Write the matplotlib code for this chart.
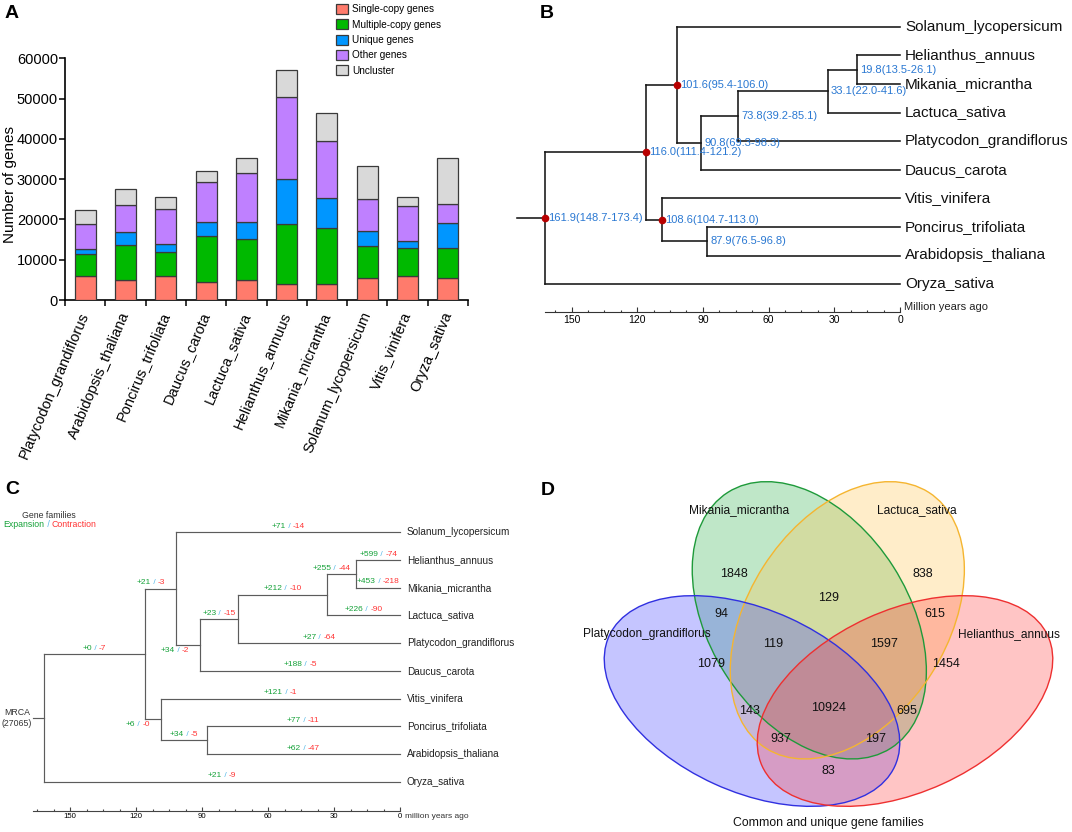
import matplotlib
matplotlib.use('Agg')
import matplotlib.pyplot as plt
from matplotlib.patches import Patch, Ellipse
from matplotlib.transforms import offset_copy
import numpy as np

plt.rcParams['font.family'] = ['Liberation Sans', 'DejaVu Sans']

# ---------------- Panel A data ----------------
species_a = ["Platycodon_grandiflorus", "Arabidopsis_thaliana", "Poncirus_trifoliata",
             "Daucus_carota", "Lactuca_sativa", "Helianthus_annuus", "Mikania_micrantha",
             "Solanum_lycopersicum", "Vitis_vinifera", "Oryza_sativa"]
single_copy = [6040, 4970, 6040, 4550, 4880, 3890, 3890, 5380, 5880, 5545]
multiple_copy = [5300, 8690, 5960, 11420, 10180, 14900, 13900, 8110, 6950, 7285]
unique_genes = [1240, 3145, 1990, 3480, 4220, 11170, 7450, 3640, 1740, 6370]
other_genes = [6210, 6700, 8520, 9930, 12170, 20520, 14240, 8030, 8690, 4550]
uncluster = [3550, 3980, 2980, 2730, 3890, 6540, 6860, 8030, 2230, 11590]
series_labels = ["Single-copy genes", "Multiple-copy genes", "Unique genes", "Other genes", "Uncluster"]
y_ticks_a = [0, 10000, 20000, 30000, 40000, 50000, 60000]

# ---------------- Tree data (B, C) ----------------
tips = ["Solanum_lycopersicum", "Helianthus_annuus", "Mikania_micrantha", "Lactuca_sativa",
        "Platycodon_grandiflorus", "Daucus_carota", "Vitis_vinifera", "Poncirus_trifoliata",
        "Arabidopsis_thaliana", "Oryza_sativa"]
node_names = ["n19", "n33", "n73", "n90", "n101", "n87", "n108", "n116", "root"]
node_ages = [19.8, 33.1, 73.8, 90.8, 101.6, 87.9, 108.6, 116.0, 161.9]
node_ci_low = [13.5, 22.0, 39.2, 69.3, 95.4, 76.5, 104.7, 111.4, 148.7]
node_ci_high = [26.1, 41.6, 85.1, 98.3, 106.0, 96.8, 113.0, 121.2, 173.4]
node_children = [("Helianthus_annuus", "Mikania_micrantha"), ("n19", "Lactuca_sativa"),
                 ("n33", "Platycodon_grandiflorus"), ("n73", "Daucus_carota"),
                 ("Solanum_lycopersicum", "n90"), ("Poncirus_trifoliata", "Arabidopsis_thaliana"),
                 ("Vitis_vinifera", "n87"), ("n101", "n108"), ("n116", "Oryza_sativa")]
calibrated_nodes = ["root", "n116", "n101", "n108"]
time_major = [150, 120, 90, 60, 30, 0]

# ---------------- Panel C data ----------------
branch_names = ["Solanum_lycopersicum", "Helianthus_annuus", "Mikania_micrantha", "n19",
                "Lactuca_sativa", "n33", "Platycodon_grandiflorus", "n73", "Daucus_carota",
                "n90", "n101", "n116", "Vitis_vinifera", "Poncirus_trifoliata",
                "Arabidopsis_thaliana", "n87", "n108", "Oryza_sativa"]
expansion = [71, 599, 453, 255, 226, 212, 27, 23, 188, 34, 21, 0, 121, 77, 62, 34, 6, 21]
contraction = [14, 74, 218, 44, 90, 10, 64, 15, 5, 2, 3, 7, 1, 11, 47, 5, 0, 9]
mrca_families = 27065

# ---------------- Panel D data ----------------
venn_sets = ["Mikania_micrantha", "Lactuca_sativa", "Platycodon_grandiflorus", "Helianthus_annuus"]
venn_values = [1848, 838, 129, 94, 615, 119, 1597, 1079, 1454, 143, 10924, 695, 937, 197, 83]

# ================= figure =================
W, H = 1072, 832
fig = plt.figure(figsize=(W / 100, H / 100), dpi=100)
renderer = fig.canvas.get_renderer()


def px_axes(x0, y0, x1, y1):
    return fig.add_axes([x0 / W, 1 - y1 / H, (x1 - x0) / W, (y1 - y0) / H])


# ---------------- Panel A ----------------
axA = px_axes(65, 58.3, 468, 300)
colors_a = ['#FF7B6C', '#00B900', '#0096FF', '#BF80FF', '#D9D9D9']
xa = np.arange(len(species_a))
bottom = np.zeros(len(xa))
for vals, col, lab in zip([single_copy, multiple_copy, unique_genes, other_genes, uncluster],
                          colors_a, series_labels):
    axA.bar(xa, vals, 0.52, bottom=bottom, color=col, edgecolor='#3a3a3a',
            linewidth=0.9, label=lab, zorder=3)
    bottom += np.array(vals)
axA.set_xlim(-0.5, 9.5)
axA.set_ylim(0, 60000)
axA.set_yticks(y_ticks_a)
axA.set_yticklabels([str(v) for v in y_ticks_a])
for s in ['top', 'right']:
    axA.spines[s].set_visible(False)
for s in ['left', 'bottom']:
    axA.spines[s].set_linewidth(1.2)
axA.set_xticks(xa)
axA.set_xticklabels(species_a, rotation=67, ha='right', va='center',
                    rotation_mode='anchor', fontsize=10.5)
axA.tick_params(axis='x', which='major', length=0, pad=9)
axA.set_xticks(np.arange(-0.5, 10, 1), minor=True)
axA.tick_params(axis='x', which='minor', length=4, width=1.1)
axA.tick_params(axis='y', length=4, width=1.1, pad=1, labelsize=10.5)
axA.set_ylabel('Number of genes', fontsize=11)
axA.yaxis.set_label_coords(-0.119, 0.476)
handles = [Patch(facecolor=c, edgecolor='#3a3a3a', linewidth=0.9) for c in colors_a]
fig.legend(handles, series_labels, loc='upper left', bbox_to_anchor=(336 / W, 1 - 4 / H),
           frameon=False, fontsize=7.2, handlelength=1.15, handleheight=1.15,
           labelspacing=0.5, handletextpad=0.45, borderpad=0, borderaxespad=0)


# ---------------- tree helpers ----------------
ages = dict(zip(node_names, node_ages))
children = dict(zip(node_names, node_children))
for t in tips:
    ages[t] = 0.0
ypos = {t: i for i, t in enumerate(tips)}


def get_y(n):
    if n not in ypos:
        ypos[n] = np.mean([get_y(c) for c in children[n]])
    return ypos[n]


for n in node_names:
    get_y(n)
parent = {}
for n in node_names:
    for c in children[n]:
        parent[c] = n


def draw_tree(ax, color, lw, stem_age):
    for n in node_names:
        cy = [ypos[c] for c in children[n]]
        ax.plot([ages[n], ages[n]], [min(cy), max(cy)], color=color, lw=lw,
                solid_capstyle='projecting')
        for c in children[n]:
            ax.plot([ages[n], ages[c]], [ypos[c], ypos[c]], color=color, lw=lw,
                    solid_capstyle='projecting')
    ax.plot([stem_age, ages['root']], [ypos['root']] * 2, color=color, lw=lw)


def time_axis(ax, ypos_axis, start, maj_len, min_len, fs, pad, color):
    for s in ['top', 'left', 'right']:
        ax.spines[s].set_visible(False)
    ax.spines['bottom'].set_position(('data', ypos_axis))
    ax.spines['bottom'].set_bounds(start, 0)
    ax.spines['bottom'].set_color(color)
    ax.spines['bottom'].set_linewidth(0.8)
    ax.set_yticks([])
    ax.set_xticks(time_major)
    ax.set_xticklabels([str(v) for v in time_major])
    ax.set_xticks(np.arange(0, start, 7.5), minor=True)
    ax.tick_params(axis='x', which='major', direction='in', length=maj_len, width=0.8,
                   labelsize=fs, pad=pad, color=color)
    ax.tick_params(axis='x', which='minor', direction='in', length=min_len, width=0.8,
                   color=color)


# ---------------- Panel B ----------------
sB, x0B = 2.19, 900.0
axB = px_axes(500, 0, 1072, 330)
axB.set_xlim((x0B - 500) / sB, (x0B - 1072) / sB)
axB.set_ylim((330 - 26.7) / 28.6, (0 - 26.7) / 28.6)
axB.patch.set_visible(False)
draw_tree(axB, '#151515', 1.15, (x0B - 516.7) / sB)
for t in tips:
    axB.text(-5 / sB, ypos[t], t, fontsize=11, ha='left', va='center', color='#111111')
for n, lo, hi in zip(node_names, node_ci_low, node_ci_high):
    axB.text(ages[n] - 3 / sB, ypos[n], f"{ages[n]:.1f}({lo:.1f}-{hi:.1f})", fontsize=8,
             color='#2A78D2', ha='left', va='center')
for n in calibrated_nodes:
    axB.plot(ages[n], ypos[n], 'o', color='#B80000', ms=4.5, mec='#B80000', zorder=5)
time_axis(axB, (312.3 - 26.7) / 28.6, ages['root'], 3.6, 1.8, 7.5, 2.3, '#333333')
axB.text(-4 / sB, (307.5 - 26.7) / 28.6, 'Million years ago', fontsize=8, ha='left',
         va='center', color='#222222')


# ---------------- Panel C ----------------
sC, x0C = 2.2, 400.0
y0C, dyC = 532.3, 27.7
axC = px_axes(0, 480, 540, 832)
axC.set_xlim((x0C - 0) / sC, (x0C - 540) / sC)
axC.set_ylim((832 - y0C) / dyC, (480 - y0C) / dyC)
axC.patch.set_visible(False)
draw_tree(axC, '#5c5c5c', 0.85, (x0C - 33.3) / sC)
for t in tips:
    axC.text(-6.7 / sC, ypos[t], t, fontsize=7.2, ha='left', va='center', color='#222222')
time_axis(axC, (811 - y0C) / dyC, 167.0, 2.6, 1.5, 5.6, 1.6, '#444444')
axC.text(-5 / sC, (816.5 - y0C) / dyC, 'million years ago', fontsize=6, ha='left',
         va='center', color='#333333')
axC.text((x0C - 17) / sC, ypos['root'], f"MRCA\n({mrca_families})", fontsize=6.3,
         ha='center', va='center', color='#333333', linespacing=1.25)

GREEN, SLASH, RED = '#17A23A', '#55B8E8', '#FF3535'


def multi_text(ax, x, y, parts, cols, fs):
    widths = []
    for p in parts:
        t = ax.text(0, 0, p, fontsize=fs)
        widths.append(t.get_window_extent(renderer).width)
        t.remove()
    cur = -sum(widths) / 2
    for p, c, w in zip(parts, cols, widths):
        tr = offset_copy(ax.transData, fig=fig, x=cur * 72 / fig.dpi, y=0, units='points')
        ax.text(x, y, p, color=c, fontsize=fs, ha='left', va='center', transform=tr)
        cur += w


label_override = {"n19": (31.2, 'above'), "n101": (113.2, 'above'),
                  "n90": (102.3, 'below'), "n108": (119.1, 'below')}
for b, e, c in zip(branch_names, expansion, contraction):
    xm = (ages[parent[b]] + ages[b]) / 2
    side = 'above'
    if b in label_override:
        xm, side = label_override[b]
    yl = ypos[b] - 5.8 / dyC if side == 'above' else ypos[b] + 5.3 / dyC
    multi_text(axC, xm, yl, [f"+{e}", " / ", f"-{c}"], [GREEN, SLASH, RED], 6)

axC.text((x0C - 49) / sC, (516 - y0C) / dyC, 'Gene families', fontsize=6.3, ha='center',
         va='center', color='#333333')
multi_text(axC, (x0C - 50) / sC, (524.5 - y0C) / dyC, ["Expansion", " / ", "Contraction"],
           [GREEN, SLASH, RED], 6.3)


# ---------------- Panel D ----------------
axD = px_axes(560, 480, 1072, 832)
axD.set_xlim(0, 512)
axD.set_ylim(352, 0)
axD.axis('off')
ell_specs = [  # (cx, cy, width, height, angle, face, edge) in panel pixels
    (249.3, 140.3, 303.3, 199.3, 57.5, '#2EB24A', '#1E9A3A'),
    (287.3, 140.3, 303.3, 199.3, -57.5, '#FFC44D', '#F5B530'),
    (192.0, 221.0, 314.0, 182.0, 24.5, '#4040FF', '#3030E0'),
    (345.0, 221.0, 314.0, 182.0, -24.5, '#FF4040', '#EE3030'),
]
for cx, cy, w, h, ang, fc, ec in ell_specs:
    axD.add_patch(Ellipse((cx, cy), w, h, angle=ang, facecolor=fc, alpha=0.3,
                          edgecolor='none'))
for cx, cy, w, h, ang, fc, ec in ell_specs:
    axD.add_patch(Ellipse((cx, cy), w, h, angle=ang, facecolor='none', edgecolor=ec,
                          linewidth=1.0))
value_pos = [(174, 94), (362.7, 94), (268.7, 117.7), (161, 133.7), (375, 133.7),
             (213.3, 164.3), (324, 164.3), (150.7, 184), (386, 184), (189.7, 231),
             (268.7, 228.3), (346.7, 231), (221, 259.3), (315.3, 259.3), (268.7, 291)]
for v, (vx, vy) in zip(venn_values, value_pos):
    axD.text(vx, vy, str(v), fontsize=9, ha='center', va='center', color='#111111')
set_label_pos = [(179.3, 29.7), (356.7, 29.7), (86.7, 153.7), (449.3, 153.7)]
for name, (lx, ly) in zip(venn_sets, set_label_pos):
    axD.text(lx, ly, name, fontsize=8.6, ha='center', va='center', color='#111111')
axD.text(268.7, 343.3, 'Common and unique gene families', fontsize=8.8, ha='center',
         va='center', color='#111111')

# ---------------- panel letters ----------------
for letter, (lx, ly) in zip("ABCD", [(5, 5), (540, 5), (5, 481), (540.5, 482)]):
    fig.text(lx / W, 1 - ly / H, letter, fontsize=14, fontweight='bold', ha='left', va='top')

fig.savefig('out.png', dpi=100)
